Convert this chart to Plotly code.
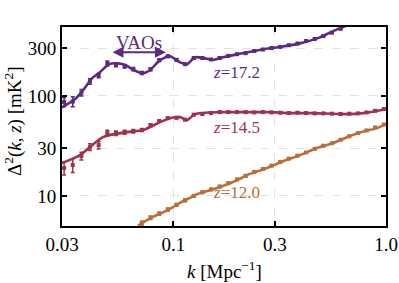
import math
import plotly.graph_objects as go

# ---------------- data ----------------
k_pts = [0.0307, 0.0337, 0.0370, 0.0406, 0.0446, 0.0490, 0.0538, 0.0591, 0.0649, 0.0712,
         0.0782, 0.0859, 0.0943, 0.1036, 0.1137, 0.1249, 0.1371, 0.1506, 0.1653, 0.1815,
         0.1993, 0.2189, 0.2403, 0.2639, 0.2897, 0.3181, 0.3493, 0.3836, 0.4211, 0.4624,
         0.5077, 0.5575, 0.6121, 0.6721, 0.7380, 0.8103, 0.8897, 0.9769]

# z = 17.2
p17 = [87, 88, 108, 140, 160, 212, 205, 198, 186, 170,
       185, 228, 250, 230, 208, 240, 240, 232, 240, 252,
       262, 268, 282, 292, 302, 310, 322, 335, 355, 372,
       398, 430, 470, 520]
e17 = [9, 10, 8, 9, 8, 12, 9, 8, 7, 6,
       6, 7, 7, 6, 5, 5, 5, 4, 4, 4,
       4, 4, 4, 4, 4, 4, 4, 4, 4, 4,
       4, 4, 4, 4]
k17_line = [0.0300, 0.0341, 0.0372, 0.0415, 0.0452, 0.0499, 0.0550, 0.0599, 0.0654, 0.0721,
            0.0777, 0.0866, 0.0965, 0.1076, 0.1160, 0.1265, 0.1410, 0.1538, 0.1713, 0.1994,
            0.2370, 0.2849, 0.3538, 0.3943, 0.4895, 0.5884, 0.6557]
v17_line = [77, 91, 110, 150, 173, 208, 212, 203, 181, 169,
            181, 228, 250, 217, 208, 244, 238, 230, 244, 261,
            280, 300, 321, 336, 386, 464, 509]

# z = 14.5
p145 = [19.0, 20.4, 25.1, 30.8, 32.3, 42.5, 42.5, 43.5, 44.5, 45.6,
        51.1, 56.0, 60.0, 60.5, 58.0, 65.0, 66.0, 67.5, 69.0, 69.0,
        69.0, 69.0, 68.5, 69.0, 68.5, 68.0, 67.5, 68.0, 67.5, 67.0,
        67.0, 66.5, 66.0, 66.5, 67.0, 68.5, 71.0, 74.0]
e145 = [2.8, 3.2, 2.2, 2.4, 2.8, 2.8, 2.2, 2.0, 1.8, 1.6,
        1.5, 1.5, 1.4, 1.3, 1.2, 1.2, 1.1, 1.1, 1.0, 1.0,
        1.0, 1.0, 1.0, 1.0, 1.0, 1.0, 1.0, 1.0, 1.0, 1.0,
        1.0, 1.0, 1.0, 1.0, 1.0, 1.0, 1.0, 1.0]
k145_line = [0.0300, 0.0364, 0.0467, 0.0606, 0.0721, 0.0866, 0.0965, 0.1076, 0.1160, 0.1265,
             0.1658, 0.1994, 0.2849, 0.3538, 0.4540, 0.6557, 0.7800, 1.0000]
v145_line = [21.3, 25.6, 38.8, 43.5, 45.6, 54.7, 60.0, 61.4, 57.3, 65.8,
             68.9, 68.9, 68.9, 67.4, 67.4, 65.8, 67.4, 73.8]

# z = 12.0
k12_pts = k_pts[9:]
p12 = [5.35, 6.05, 6.65, 7.3, 8.15, 9.05, 10.0, 10.9, 11.6, 12.4,
       13.4, 14.6, 15.9, 17.4, 18.6, 20.1, 21.9, 23.6, 25.3, 27.2,
       29.6, 31.8, 33.7, 36.5, 39.5, 42.5, 45.2, 48.5, 51.8]
e12 = [0.25, 0.25, 0.25, 0.25, 0.25, 0.3, 0.3, 0.3, 0.3, 0.3,
       0.35, 0.35, 0.4, 0.4, 0.4, 0.45, 0.45, 0.5, 0.5, 0.5,
       0.55, 0.6, 0.6, 0.65, 0.7, 0.7, 0.75, 0.8, 0.8]
k12_line = [0.0683, 0.0729, 0.0803, 0.0886, 0.0965, 0.1076, 0.1199, 0.1307, 0.1606, 0.1909,
            0.2295, 0.2758, 0.3280, 0.3943, 0.4740, 0.5636, 0.6774, 0.7967, 0.9070, 1.0000]
v12_line = [5.02, 5.5, 6.17, 6.77, 7.42, 8.52, 9.55, 10.5, 12.0, 13.8,
            16.6, 19.0, 22.2, 25.6, 30.1, 33.8, 39.7, 44.5, 47.7, 52.3]

x_ticks = [0.03, 0.1, 0.3, 1.0]
x_ticktext = ["0.03", "0.1", "0.3", "1.0"]
y_ticks = [10, 30, 100, 300]
y_ticktext = ["10", "30", "100", "300"]

labels = ["<i>z</i>=17.2", "<i>z</i>=14.5", "<i>z</i>=12.0"]
label_pos = [(0.199, 173), (0.199, 48.9), (0.199, 10.7)]

c17 = "#5c2a80"
c145 = "#a1304f"
c12 = "#b96f3a"
colors = [c17, c145, c12]

FONT = "Liberation Serif"

fig = go.Figure()
series = [
    (k17_line, v17_line, k_pts[:len(p17)], p17, e17, c17),
    (k145_line, v145_line, k_pts, p145, e145, c145),
    (k12_line, v12_line, k12_pts, p12, e12, c12),
]
for kl, vl, kp, vp, ep, c in series:
    fig.add_trace(go.Scatter(x=kl, y=vl, mode="lines",
                             line=dict(color=c, width=2.6, shape="spline", smoothing=0.7),
                             showlegend=False, hoverinfo="skip"))
    fig.add_trace(go.Scatter(x=kp, y=vp, mode="markers",
                             marker=dict(color=c, size=4, symbol="square"),
                             error_y=dict(type="data", array=ep, color=c, thickness=1.5, width=2),
                             showlegend=False))

for txt, (kx, vy), c in zip(labels, label_pos, colors):
    fig.add_annotation(x=math.log10(kx), y=math.log10(vy), xref="x", yref="y",
                       text=txt, showarrow=False, font=dict(family=FONT, size=17, color=c))

# VAOs double arrow
fig.add_annotation(x=math.log10(0.0924), y=math.log10(274), ax=math.log10(0.0510), ay=math.log10(274),
                   xref="x", yref="y", axref="x", ayref="y", text="", showarrow=True,
                   arrowhead=2, startarrowhead=2, arrowside="end+start", arrowsize=1.1,
                   arrowwidth=2, arrowcolor=c17)
fig.add_annotation(x=math.log10(0.069), y=math.log10(345), xref="x", yref="y", text="VAOs",
                   showarrow=False, font=dict(family=FONT, size=19, color=c17))

# axis titles (paper coords are relative to the plot area)
fig.add_annotation(x=-0.148, y=0.523, xref="paper", yref="paper", xanchor="center", yanchor="middle",
                   text="Δ<sup>2</sup>(<i>k</i>, <i>z</i>) [mK<sup>2</sup>]", textangle=-90,
                   showarrow=False, font=dict(family=FONT, size=19, color="black"))
fig.add_annotation(x=0.503, y=-0.221, xref="paper", yref="paper", xanchor="center", yanchor="middle",
                   text="<i>k</i> [Mpc<sup>−1</sup>]",
                   showarrow=False, font=dict(family=FONT, size=19, color="black"))

axis_common = dict(showline=True, linecolor="black", linewidth=2, mirror="ticks",
                   ticks="inside", ticklen=5, tickwidth=1.5, tickcolor="black",
                   showgrid=True, gridcolor="#e2e2e2", griddash="dash", gridwidth=1,
                   zeroline=False, automargin=False,
                   tickfont=dict(family=FONT, size=19, color="black"))

fig.update_xaxes(type="log", range=[math.log10(0.03), 0], tickvals=x_ticks, ticktext=x_ticktext,
                 **axis_common)
fig.update_yaxes(type="log", range=[math.log10(5.0), math.log10(490)], tickvals=y_ticks,
                 ticktext=y_ticktext, **axis_common)

fig.update_layout(width=399, height=283, margin=dict(l=62, r=13, t=27, b=57),
                  paper_bgcolor="white", plot_bgcolor="white", showlegend=False,
                  font=dict(family=FONT))

fig.write_html("out.html", config={"displayModeBar": False},
               post_script="document.body.style.margin='0px';")
